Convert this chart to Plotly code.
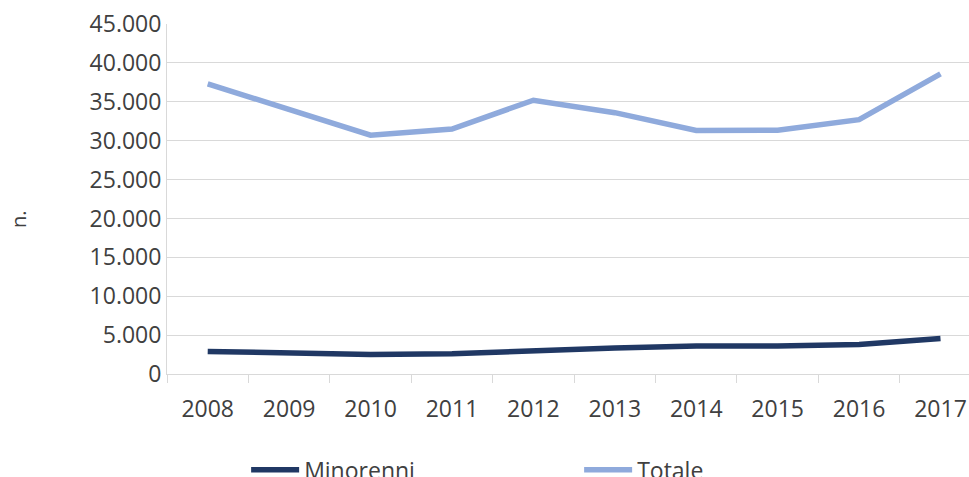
import plotly.graph_objects as go

years = ["2008", "2009", "2010", "2011", "2012", "2013", "2014", "2015", "2016", "2017"]
minorenni = [2900, 2700, 2500, 2600, 3050, 3350, 3600, 3600, 3800, 4550]
totale = [37300, 34000, 30700, 31500, 35200, 33600, 31300, 31350, 32700, 38600]
y_title = "n."

FONT = "Open Sans"
TXT = "#404040"
GRID = "#D9D9D9"
W, H = 969, 477

fig = go.Figure()
fig.add_trace(go.Scatter(x=years, y=minorenni, name="Minorenni", mode="lines",
                         line=dict(color="#203864", width=5.5)))
fig.add_trace(go.Scatter(x=years, y=totale, name="Totale", mode="lines",
                         line=dict(color="#8FAADC", width=5.5)))

x_range = [-0.5, len(years) - 0.65]

fig.update_layout(
    width=W, height=H,
    margin=dict(l=167, r=0, t=24, b=103),
    paper_bgcolor="white", plot_bgcolor="white",
    separators=",.",
    font=dict(family=FONT, size=23, color=TXT),
    showlegend=True,
    legend=dict(orientation="h", xref="container", yref="container",
                x=0.254, y=0.015, xanchor="left", yanchor="middle",
                entrywidth=270, entrywidthmode="pixels",
                font=dict(size=23, color=TXT), itemwidth=48,
                bgcolor="rgba(0,0,0,0)"),
    xaxis=dict(type="category", range=x_range,
               showgrid=False, showline=True, linecolor=GRID, linewidth=1,
               ticks="outside", ticklen=8, tickcolor=GRID, tickson="boundaries",
               tickfont=dict(size=23, color=TXT), ticklabelstandoff=14),
    xaxis2=dict(type="linear", overlaying="x", anchor="y", side="bottom",
                range=x_range, showgrid=False, showline=False, zeroline=False,
                tickvals=[i - 0.5 for i in range(len(years))],
                ticks="inside", ticklen=8, tickcolor=GRID, showticklabels=False),
    yaxis=dict(range=[0, 45000], dtick=5000, tickformat=",d",
               showgrid=True, gridcolor=GRID, gridwidth=1,
               showline=True, linecolor=GRID, linewidth=1,
               zeroline=False, ticks="", tickfont=dict(size=23, color=TXT)),
    annotations=[dict(text=y_title, textangle=-90, xref="paper", yref="paper",
                      x=-149 / 802, y=(374 - 219) / 350, xanchor="center", yanchor="middle",
                      showarrow=False, font=dict(size=20, color=TXT))],
)

fig.write_html("out.html", config={"displayModeBar": False})
with open("out.html", encoding="utf-8") as f:
    html = f.read()
html = html.replace("<body>", '<body style="margin:0;overflow:hidden">', 1)
with open("out.html", "w", encoding="utf-8") as f:
    f.write(html)
